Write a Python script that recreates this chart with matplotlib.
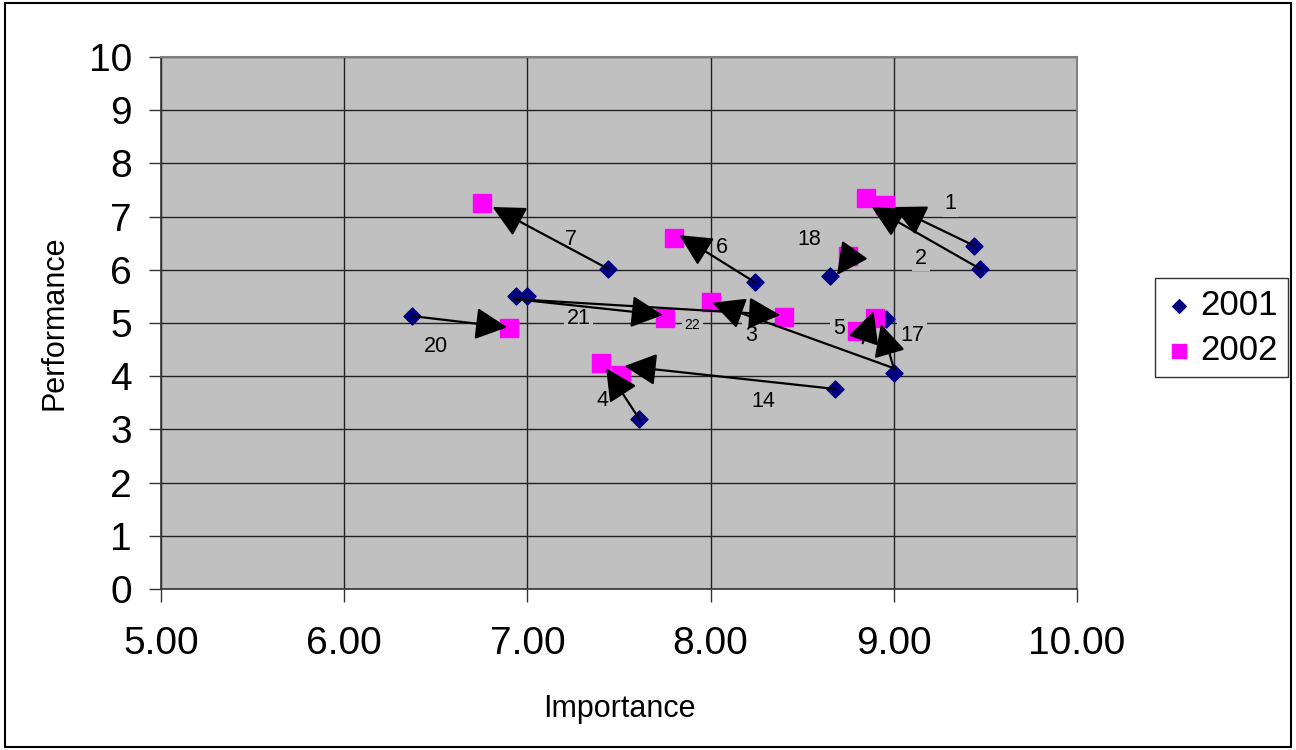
import matplotlib
matplotlib.use("Agg")
import matplotlib.pyplot as plt
from matplotlib.patches import Rectangle
from matplotlib.ticker import FormatStrFormatter

plt.rcParams["font.family"] = ["Liberation Sans", "DejaVu Sans"]

# 2001 points (importance, performance)
imp_2001 = [9.44, 9.47, 7.44, 8.24, 8.65, 6.94, 7.00, 6.37, 9.00, 8.68, 7.61, 8.96]
perf_2001 = [6.45, 6.02, 6.02, 5.77, 5.88, 5.51, 5.51, 5.13, 4.06, 3.76, 3.20, 5.07]

# 2002 points
imp_2002 = [8.85, 8.95, 6.75, 7.80, 8.75, 8.00, 8.40, 7.75, 6.90, 8.80, 8.90, 7.40, 7.51]
perf_2002 = [7.35, 7.22, 7.26, 6.60, 6.26, 5.39, 5.11, 5.10, 4.91, 4.85, 5.10, 4.25, 4.02]

# hand drawn arrows: start -> tip
arrow_x0 = [9.44, 9.47, 7.44, 8.24, 8.76, 6.93, 6.93, 9.00, 9.00, 8.83, 6.37, 7.61, 8.68]
arrow_y0 = [6.45, 6.02, 6.02, 5.77, 6.24, 5.45, 5.45, 4.15, 4.15, 4.62, 5.13, 3.20, 3.76]
arrow_x1 = [9.00, 8.88, 6.81, 7.83, 8.69, 8.38, 7.74, 8.01, 8.93, 8.89, 6.89, 7.43, 7.53]
arrow_y1 = [7.18, 7.18, 7.18, 6.65, 5.90, 5.15, 5.15, 5.38, 4.98, 5.22, 4.92, 4.15, 4.19]

# item number labels
lab_text = ["1", "2", "7", "6", "18", "21", "22", "3", "5", "17", "20", "4", "14"]
lab_x = [9.31, 9.15, 7.24, 8.06, 8.54, 7.28, 7.90, 8.22, 8.70, 9.10, 6.50, 7.41, 8.29]
lab_y = [7.24, 6.22, 6.56, 6.41, 6.56, 5.09, 4.96, 4.76, 4.89, 4.76, 4.55, 3.55, 3.52]
lab_size = [15.5, 15.5, 15.5, 15.5, 15.5, 15.5, 10, 15.5, 15.5, 15.5, 15.5, 15.5, 15.5]

fig = plt.figure(figsize=(12.96, 7.5), dpi=100)
ax = fig.add_axes([0.1242, 0.2147, 0.7068, 0.7093])
ax.set_facecolor("#c0c0c0")

ax.grid(True, color="#222222", linewidth=1.0)
ax.set_axisbelow(True)

for x0, y0, x1, y1 in zip(arrow_x0, arrow_y0, arrow_x1, arrow_y1):
    ax.annotate("", xy=(x1, y1), xytext=(x0, y0),
                arrowprops=dict(arrowstyle="-|>,head_length=0.9,head_width=0.45",
                                color="black", lw=1.6, mutation_scale=22,
                                shrinkA=0, shrinkB=0), zorder=4)

ax.scatter(imp_2001, perf_2001, marker="D", s=75, color="#000080", zorder=3, label="2001")
ax.scatter(imp_2002, perf_2002, marker="s", s=150, color="#ff00ff", zorder=3, label="2002")

for t, x, y, s in zip(lab_text, lab_x, lab_y, lab_size):
    ax.text(x, y, t, fontsize=s, ha="center", va="center", zorder=2.5,
            bbox=dict(facecolor="#c0c0c0", edgecolor="none", pad=2))

ax.set_xlim(5, 10)
ax.set_ylim(0, 10)
ax.set_xticks([5, 6, 7, 8, 9, 10])
ax.set_yticks(range(0, 11))
ax.xaxis.set_major_formatter(FormatStrFormatter("%.2f"))
ax.tick_params(labelsize=28, length=9, width=1, color="#333333", direction="out")
ax.tick_params(axis="x", pad=18)
ax.tick_params(axis="y", pad=12)

for side in ["top", "right"]:
    ax.spines[side].set_color("#808080")
    ax.spines[side].set_linewidth(1.5)
for side in ["bottom", "left"]:
    ax.spines[side].set_color("#333333")
    ax.spines[side].set_linewidth(1.2)

ax.set_xlabel("Importance", fontsize=22, labelpad=23)
ax.set_ylabel("Performance", fontsize=22, labelpad=14)

leg = ax.legend(loc="center left", bbox_to_anchor=(0.891, 0.563),
                bbox_transform=fig.transFigure, borderaxespad=0,
                fontsize=25, fancybox=False, edgecolor="black",
                handletextpad=0.2, handlelength=0.8, borderpad=0.3,
                labelspacing=0.35, markerscale=0.8)
leg.get_frame().set_linewidth(1.0)

fig.patches.append(Rectangle((0.004, 0.004), 0.992, 0.992, transform=fig.transFigure,
                             fill=False, edgecolor="black", linewidth=1.5))

fig.savefig("out.png", dpi=100)
